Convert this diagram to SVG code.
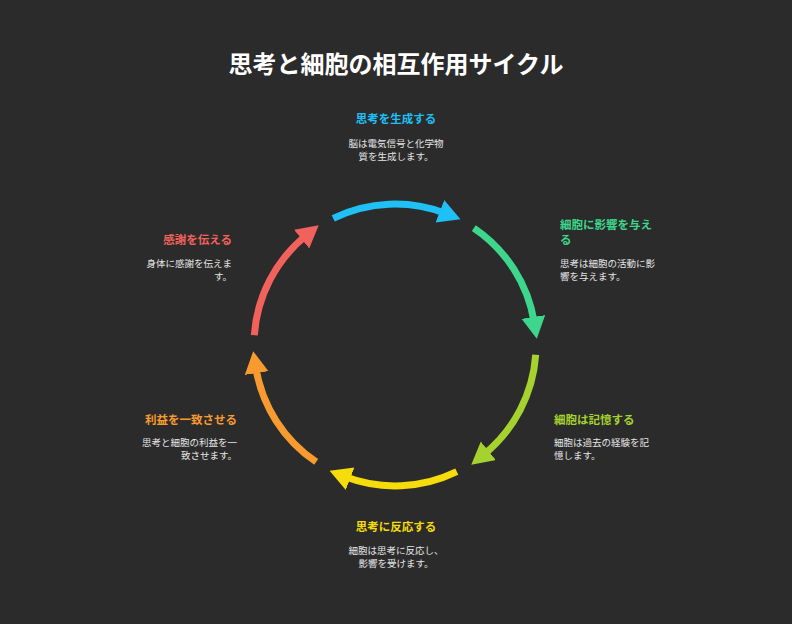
<svg xmlns="http://www.w3.org/2000/svg" width="792" height="624" viewBox="0 0 792 624">
<style>
text{font-family:"Noto Sans CJK JP","Noto Sans",sans-serif}
.t{font-size:24px;font-weight:bold;fill:#fff}
.h{font-size:11.5px;font-weight:bold}
.d{font-size:9.5px;fill:#e6e6e6}
.a{fill:none;stroke-width:7}
</style>
<defs>
<marker id="m1" markerUnits="userSpaceOnUse" markerWidth="24" markerHeight="26" refX="6" refY="12" orient="auto"><path d="M0,0 L22,12 L0,24z" fill="#1ec0f5"/></marker>
<marker id="m2" markerUnits="userSpaceOnUse" markerWidth="24" markerHeight="26" refX="6" refY="12" orient="auto"><path d="M0,0 L22,12 L0,24z" fill="#3dd68c"/></marker>
<marker id="m3" markerUnits="userSpaceOnUse" markerWidth="24" markerHeight="26" refX="6" refY="12" orient="auto"><path d="M0,0 L22,12 L0,24z" fill="#a5d22e"/></marker>
<marker id="m4" markerUnits="userSpaceOnUse" markerWidth="24" markerHeight="26" refX="6" refY="12" orient="auto"><path d="M0,0 L22,12 L0,24z" fill="#f5dc0a"/></marker>
<marker id="m5" markerUnits="userSpaceOnUse" markerWidth="24" markerHeight="26" refX="6" refY="12" orient="auto"><path d="M0,0 L22,12 L0,24z" fill="#f79a30"/></marker>
<marker id="m6" markerUnits="userSpaceOnUse" markerWidth="24" markerHeight="26" refX="6" refY="12" orient="auto"><path d="M0,0 L22,12 L0,24z" fill="#f2625c"/></marker>
</defs>
<rect width="792" height="624" fill="#2b2b2b"/>
<text class="t" x="396" y="73" text-anchor="middle">思考と細胞の相互作用サイクル</text>
<g id="connectors">
<path class="a" stroke="#1ec0f5" marker-end="url(#m1)" d="M333.2,218.3 A141,141 0 0 1 445.5,213.4"/>
<path class="a" stroke="#3dd68c" marker-end="url(#m2)" d="M473.8,228.1 A141,141 0 0 1 534.3,322.9"/>
<path class="a" stroke="#a5d22e" marker-end="url(#m3)" d="M535.7,354.8 A141,141 0 0 1 483.7,454.6"/>
<path class="a" stroke="#f5dc0a" marker-end="url(#m4)" d="M456.8,471.7 A141,141 0 0 1 344.5,476.6"/>
<path class="a" stroke="#f79a30" marker-end="url(#m5)" d="M316.2,461.9 A141,141 0 0 1 255.7,367.1"/>
<path class="a" stroke="#f2625c" marker-end="url(#m6)" d="M254.3,335.2 A141,141 0 0 1 306.3,235.4"/>
</g>
<g id="n1" text-anchor="middle"><text class="h" x="396" y="123" fill="#1ec0f5">思考を生成する</text><text class="d" x="396" y="147">脳は電気信号と化学物</text><text class="d" x="396" y="160">質を生成します。</text></g>
<g id="n2"><text class="h" x="560" y="229" fill="#3dd68c">細胞に影響を与え</text><text class="h" x="560" y="244" fill="#3dd68c">る</text><text class="d" x="560" y="267">思考は細胞の活動に影</text><text class="d" x="560" y="280">響を与えます。</text></g>
<g id="n3"><text class="h" x="554" y="424" fill="#a5d22e">細胞は記憶する</text><text class="d" x="554" y="446">細胞は過去の経験を記</text><text class="d" x="554" y="459">憶します。</text></g>
<g id="n4" text-anchor="middle"><text class="h" x="396" y="531" fill="#f5dc0a">思考に反応する</text><text class="d" x="396" y="554">細胞は思考に反応し、</text><text class="d" x="396" y="567">影響を受けます。</text></g>
<g id="n5" text-anchor="end"><text class="h" x="237" y="424" fill="#f79a30">利益を一致させる</text><text class="d" x="237" y="446">思考と細胞の利益を一</text><text class="d" x="237" y="459">致させます。</text></g>
<g id="n6" text-anchor="end"><text class="h" x="232" y="244" fill="#f2625c">感謝を伝える</text><text class="d" x="232" y="267">身体に感謝を伝えま</text><text class="d" x="232" y="280">す。</text></g>
</svg>
